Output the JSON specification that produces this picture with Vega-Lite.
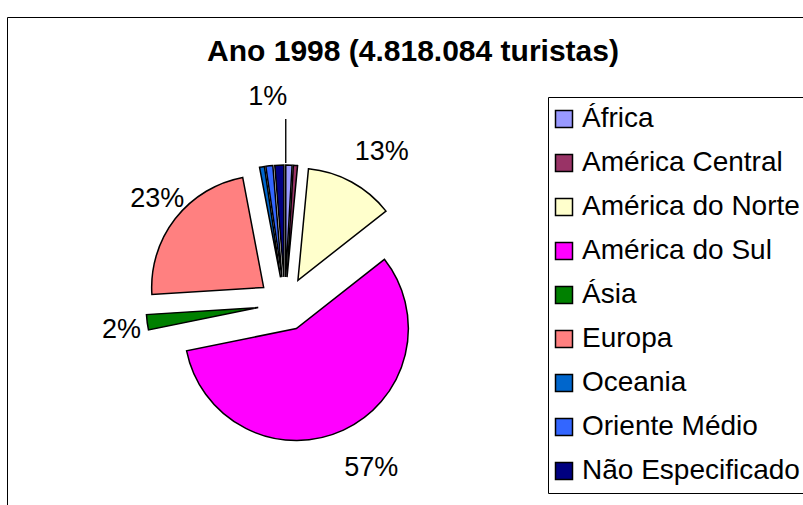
{
  "$schema": "https://vega.github.io/schema/vega-lite/v6.json",
  "width": 796,
  "height": 488,
  "autosize": {"type": "none"},
  "padding": {"left": 7, "top": 17, "right": 0, "bottom": 0},
  "background": "white",
  "view": {"stroke": "#000", "strokeWidth": 1, "strokeDash": [796, 1284, 488, 0]},
  "config": {
    "view": {"stroke": "#000", "strokeWidth": 1},
    "font": "Liberation Sans"
  },
  "title": {
    "text": "Ano 1998 (4.818.084 turistas)",
    "font": "Liberation Sans",
    "fontSize": 30,
    "fontWeight": "bold",
    "color": "#000",
    "anchor": "middle",
    "frame": "group",
    "baseline": "alphabetic",
    "offset": -74,
    "dx": 8
  },
  "data": {
    "values": [
      {"regiao": "África", "participacao": 0.009},
      {"regiao": "América Central", "participacao": 0.006},
      {"regiao": "América do Norte", "participacao": 0.129},
      {"regiao": "América do Sul", "participacao": 0.574},
      {"regiao": "Ásia", "participacao": 0.022},
      {"regiao": "Europa", "participacao": 0.230},
      {"regiao": "Oceania", "participacao": 0.007},
      {"regiao": "Oriente Médio", "participacao": 0.010},
      {"regiao": "Não Especificado", "participacao": 0.013}
    ]
  },
  "transform": [{"window": [{"op": "row_number", "as": "ordem"}]}],
  "layer": [
    {
      "mark": {
        "type": "arc",
        "radius": 112,
        "stroke": "#000",
        "strokeWidth": 1.5,
        "xOffset": {"expr": "-120 + 27*sin(PI*(datum.participacao_start + datum.participacao_end))"},
        "yOffset": {"expr": "43 - 27*cos(PI*(datum.participacao_start + datum.participacao_end))"}
      },
      "encoding": {
        "theta": {"field": "participacao", "type": "quantitative", "stack": true},
        "order": {"field": "ordem", "type": "quantitative"},
        "color": {
          "field": "regiao",
          "type": "nominal",
          "scale": {
            "domain": ["África", "América Central", "América do Norte", "América do Sul", "Ásia", "Europa", "Oceania", "Oriente Médio", "Não Especificado"],
            "range": ["#9999FF", "#993366", "#FFFFCC", "#FF00FF", "#008000", "#FF8080", "#0066CC", "#3366FF", "#000080"]
          },
          "legend": {
            "title": null,
            "orient": "none",
            "legendX": 541,
            "legendY": 80,
            "symbolType": "square",
            "symbolSize": 289,
            "symbolStrokeColor": "#000",
            "symbolStrokeWidth": 1.5,
            "symbolOffset": -6,
            "labelFont": "Liberation Sans",
            "labelFontSize": 28,
            "labelColor": "#000",
            "labelOffset": 4,
            "labelLimit": 400,
            "rowPadding": 16,
            "padding": 8,
            "strokeColor": "#000",
            "fillColor": "#fff"
          }
        }
      }
    },
    {
      "mark": {
        "type": "text",
        "radius": 150,
        "font": "Liberation Sans",
        "fontSize": 27,
        "color": "#000",
        "dx": 12,
        "dy": 3,
        "xOffset": {"expr": "-120 + 27*sin(PI*(datum.participacao_start + datum.participacao_end))"},
        "yOffset": {"expr": "43 - 27*cos(PI*(datum.participacao_start + datum.participacao_end))"}
      },
      "encoding": {
        "theta": {"field": "participacao", "type": "quantitative", "stack": true},
        "order": {"field": "ordem", "type": "quantitative"},
        "text": {
          "condition": {"test": "datum.participacao < 0.02", "value": ""},
          "field": "participacao",
          "type": "quantitative",
          "format": ".0%"
        }
      }
    },
    {
      "transform": [
        {"stack": "participacao", "groupby": [], "as": ["participacao_start", "participacao_end"]},
        {"filter": "datum.regiao === 'África'"}
      ],
      "layer": [
        {
          "mark": {
            "type": "arc",
            "radius": 158,
            "radius2": 114,
            "stroke": "#000",
            "strokeWidth": 1,
            "fill": null,
            "xOffset": {"expr": "-120 + 27*sin(PI*(datum.participacao_start + datum.participacao_end))"},
            "yOffset": {"expr": "43 - 27*cos(PI*(datum.participacao_start + datum.participacao_end))"}
          },
          "encoding": {
            "theta": {"field": "participacao_start", "type": "quantitative", "stack": null},
            "theta2": {"field": "participacao_start"}
          }
        },
        {
          "mark": {
            "type": "text",
            "radius": 180,
            "font": "Liberation Sans",
            "fontSize": 27,
            "color": "#000",
            "dx": -18,
            "xOffset": {"expr": "-120 + 27*sin(PI*(datum.participacao_start + datum.participacao_end))"},
            "yOffset": {"expr": "43 - 27*cos(PI*(datum.participacao_start + datum.participacao_end))"}
          },
          "encoding": {
            "theta": {"field": "participacao_start", "type": "quantitative", "stack": null},
            "text": {"field": "participacao", "type": "quantitative", "format": ".0%"}
          }
        }
      ]
    }
  ]
}
